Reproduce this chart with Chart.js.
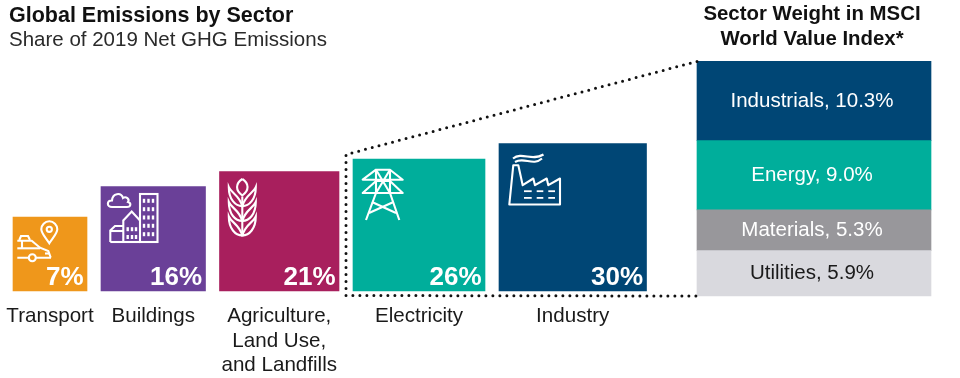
<!DOCTYPE html>
<html>
<head>
<meta charset="utf-8">
<script src="https://cdn.jsdelivr.net/npm/chart.js@4"></script>
<style>
  body { margin: 0; background: #fff; font-family: 'Liberation Sans', sans-serif; color: #111; }
  #wrap { position: relative; width: 960px; height: 378px; overflow: hidden; }
  canvas { position: absolute; left: 0; top: 0; }
  .txt { position: absolute; white-space: nowrap; }
  #title { left: 9px; top: 1px; font-size: 21.5px; font-weight: bold; line-height: 28px; }
  #subtitle { left: 9px; top: 25px; font-size: 20.5px; line-height: 28px; color: #2a2a2a; }
  #rightTitle { left: 662px; width: 300px; top: 1px; text-align: center; font-size: 20.4px; font-weight: bold; line-height: 25px; }
</style>
</head>
<body>
<div id="wrap">
  <canvas id="chart" width="960" height="378"></canvas>
  <div class="txt" id="title">Global Emissions by Sector</div>
  <div class="txt" id="subtitle">Share of 2019 Net GHG Emissions</div>
  <div class="txt" id="rightTitle">Sector Weight in MSCI<br>World Value Index*</div>
</div>
<script>
const sectors = ['Transport', 'Buildings', ['Agriculture,', 'Land Use,', 'and Landfills'], 'Electricity', 'Industry'];
const sectorShares = [7, 16, 21, 26, 30];
const sectorSides = [74, 104.5, 119.5, 132, 147.5];
const sectorColors = ['#EF971B', '#6A4098', '#A81F5D', '#00AE9B', '#004675'];

// Right side: stacked index weights
const weightNames = ['Industrials', 'Energy', 'Materials', 'Utilities'];
const weightValues = [10.3, 9.0, 5.3, 5.9];
const weightColors = ['#004675', '#00AE9B', '#98979B', '#D9D9DE'];
const weightTextColors = ['#fff', '#fff', '#fff', '#1a1a1a'];

const FIRST_LEFT = 13;
const BAR_GAP = 14;
const STACK_CENTER = 814;
const STACK_WIDTH = 234;

// bars sit side by side with a fixed gap, so the centres follow from the sides
let cursor = FIRST_LEFT;
const sectorCenters = sectorSides.map(side => {
    const center = cursor + side / 2;
    cursor += side + BAR_GAP;
    return center;
});

const datasets = [];
sectorSides.forEach((side, i) => {
    datasets.push({
        data: [{ x: sectorCenters[i], y: side }],
        backgroundColor: sectorColors[i],
        barThickness: side,
        yAxisID: 'y',
        stack: 'all'
    });
});
// bottom of the stack goes first
for (let i = weightValues.length - 1; i >= 0; i--) {
    datasets.push({
        data: [{ x: STACK_CENTER, y: weightValues[i] }],
        backgroundColor: weightColors[i],
        barThickness: STACK_WIDTH,
        yAxisID: 'y2',
        stack: 'all',
        weightIndex: i
    });
}

// Icons are sized in px from the top left corner of their bar
function line(ctx, pts, close) {
    ctx.beginPath();
    pts.forEach((p, i) => i ? ctx.lineTo(p[0], p[1]) : ctx.moveTo(p[0], p[1]));
    if (close) ctx.closePath();
    ctx.stroke();
}

function carIcon(ctx, bg) {
    ctx.beginPath();
    ctx.moveTo(36.3, 26.3);
    ctx.bezierCurveTo(33, 21, 28.3, 16.5, 28.3, 12.3);
    ctx.arc(36.3, 12.3, 8, Math.PI, 0);
    ctx.bezierCurveTo(44.3, 16.5, 39.6, 21, 36.3, 26.3);
    ctx.closePath();
    ctx.stroke();
    ctx.beginPath();
    ctx.arc(36.3, 12.3, 2.6, 0, Math.PI * 2);
    ctx.stroke();
    line(ctx, [[6.3, 23], [8, 19], [15, 19], [17, 23]]);
    line(ctx, [[4.3, 23.7], [18.7, 23.7], [27, 30.7], [35.3, 34], [37.7, 40.5]]);
    line(ctx, [[4.3, 31.3], [27, 31.3]]);
    line(ctx, [[9, 23.7], [9, 31.3]]);
    line(ctx, [[4.3, 40.7], [38, 40.7]]);
    line(ctx, [[32, 36.5], [36.5, 36.5]]);
    ctx.beginPath();
    ctx.arc(19.3, 40.7, 3.5, 0, Math.PI * 2);
    ctx.fillStyle = bg;
    ctx.fill();
    ctx.stroke();
}

function cityIcon(ctx) {
    ctx.beginPath();
    ctx.moveTo(11, 20.5);
    ctx.bezierCurveTo(5.5, 20.5, 5.5, 14, 11, 14);
    ctx.bezierCurveTo(11.5, 6.5, 20, 5.5, 22, 11.5);
    ctx.bezierCurveTo(25, 9.5, 29, 12.5, 27, 15.5);
    ctx.bezierCurveTo(30.5, 16.5, 30, 20.5, 26, 20.5);
    ctx.closePath();
    ctx.stroke();
    ctx.strokeRect(39, 7.5, 17.5, 48);
    line(ctx, [[22.3, 55.5], [22.3, 34], [30.7, 25], [39, 34]]);
    line(ctx, [[9.3, 55.5], [9.3, 44], [14, 39.5], [22.3, 39.5]]);
    line(ctx, [[9.3, 44.5], [22.3, 44.5]]);
    line(ctx, [[9.3, 55.5], [39, 55.5]]);
    ctx.fillStyle = '#fff';
    for (const x of [43, 47.5, 52]) {
        for (const y of [12.3, 20.7, 29, 37.3, 45.7]) ctx.fillRect(x - 1.2, y, 2.4, 4);
    }
    for (const x of [26.7, 31, 35]) {
        for (const y of [40.7, 48.5]) ctx.fillRect(x - 1.2, y, 2.4, 4);
    }
}

function wheatIcon(ctx) {
    const cx = 22.8;
    line(ctx, [[cx, 25], [cx, 64]]);
    ctx.beginPath();
    ctx.moveTo(cx, 7.5);
    ctx.bezierCurveTo(cx + 7, 12, cx + 7, 19, cx, 24);
    ctx.bezierCurveTo(cx - 7, 19, cx - 7, 12, cx, 7.5);
    ctx.stroke();
    for (const top of [15.7, 30.5, 45]) {
        for (const dir of [-1, 1]) {
            ctx.beginPath();
            ctx.moveTo(cx, top + 19);
            ctx.bezierCurveTo(cx + dir * 7, top + 19, cx + dir * 13.5, top + 12, cx + dir * 13.5, top);
            ctx.bezierCurveTo(cx + dir * 11, top + 6, cx + dir * 3, top + 8, cx, top + 19);
            ctx.closePath();
            ctx.stroke();
        }
    }
}

function towerIcon(ctx) {
    ctx.lineJoin = 'round';
    line(ctx, [[23, 10.7], [9.7, 20.7], [49.7, 20.7], [37, 10.7]], true);
    line(ctx, [[23, 22], [9.7, 34], [49.7, 34], [37, 22]], true);
    line(ctx, [[23, 10.7], [37, 34]]);
    line(ctx, [[37, 10.7], [23, 34]]);
    line(ctx, [[23, 10.7], [23, 34], [13, 61]]);
    line(ctx, [[37, 10.7], [37, 34], [46.3, 61]]);
    line(ctx, [[19, 43], [43, 54]]);
    line(ctx, [[40.5, 43], [16, 54]]);
}

function factoryIcon(ctx) {
    ctx.lineJoin = 'round';
    line(ctx, [[10.3, 61], [14.3, 21.7], [19.3, 21.7], [23.7, 41.7], [34.3, 35], [36, 41.7], [47.7, 35], [49.3, 41.7], [61, 35], [61, 61]], true);
    ctx.beginPath();
    ctx.moveTo(14, 15);
    ctx.bezierCurveTo(23, 8, 33, 18, 44.5, 11);
    ctx.moveTo(16, 18.5);
    ctx.bezierCurveTo(25, 13, 34, 23, 43, 15);
    ctx.stroke();
    ctx.fillStyle = '#fff';
    for (const y of [47.7, 54.4]) {
        ctx.fillRect(25, y - 0.9, 7.7, 1.8);
        ctx.fillRect(37.7, y - 0.9, 6.6, 1.8);
        ctx.fillRect(49.3, y - 0.9, 6.7, 1.8);
    }
}

const icons = [carIcon, cityIcon, wheatIcon, towerIcon, factoryIcon];

const annotations = {
    id: 'annotations',
    afterDatasetsDraw(chart) {
        const ctx = chart.ctx;
        const barAt = i => chart.getDatasetMeta(i).data[0];

        // icons and % labels on the sector squares
        sectorShares.forEach((share, i) => {
            const bar = barAt(i);
            const left = bar.x - bar.width / 2;
            ctx.save();
            ctx.translate(left, bar.y);
            ctx.strokeStyle = '#fff';
            ctx.lineWidth = 2.1;
            icons[i](ctx, sectorColors[i]);
            ctx.restore();

            ctx.save();
            ctx.fillStyle = '#fff';
            ctx.font = 'bold 26px "Liberation Sans"';
            ctx.textAlign = 'right';
            ctx.textBaseline = 'alphabetic';
            ctx.fillText(share + '%', bar.x + bar.width / 2 - 3.5, bar.base - 6);
            ctx.restore();
        });

        // labels in the stack
        chart.data.datasets.forEach((ds, d) => {
            if (ds.weightIndex === undefined) return;
            const bar = barAt(d);
            const i = ds.weightIndex;
            ctx.save();
            ctx.fillStyle = weightTextColors[i];
            ctx.font = '20.5px "Liberation Sans"';
            ctx.textAlign = 'center';
            ctx.textBaseline = 'middle';
            ctx.fillText(weightNames[i] + ', ' + weightValues[i].toFixed(1) + '%', bar.x - 2, (bar.y + bar.base) / 2);
            ctx.restore();
        });

        // dotted zoom outline from the Electricity + Industry bars to the stack
        const elec = barAt(3);
        const topBar = barAt(datasets.length - 1);
        const bottomBar = barAt(sectorShares.length);
        const outerX = elec.x - elec.width / 2 - 7;
        const stackLeft = topBar.x - topBar.width / 2;
        ctx.save();
        ctx.strokeStyle = '#111';
        ctx.lineWidth = 3;
        ctx.lineCap = 'round';
        ctx.setLineDash([0, 7]);
        ctx.beginPath();
        ctx.moveTo(stackLeft, topBar.y);
        ctx.lineTo(outerX, elec.y - 4.5);
        ctx.lineTo(outerX, elec.base + 4.5);
        ctx.lineTo(stackLeft, bottomBar.base);
        ctx.stroke();
        ctx.restore();
    }
};

new Chart(document.getElementById('chart'), {
    type: 'bar',
    data: { datasets },
    plugins: [annotations],
    options: {
        responsive: false,
        animation: false,
        layout: { padding: 0, autoPadding: false },
        plugins: { legend: { display: false }, tooltip: { enabled: false } },
        scales: {
            x: {
                type: 'linear',
                offset: false,
                position: { y: 0 },
                min: 0,
                max: 960,
                // tick length instead of ticks.padding, that padding would shrink the scale
                grid: { display: false, tickLength: 13 },
                border: { display: false },
                afterBuildTicks: axis => { axis.ticks = sectorCenters.map(value => ({ value })); },
                ticks: {
                    autoSkip: false,
                    maxRotation: 0,
                    padding: 0,
                    color: '#1a1a1a',
                    font: { family: 'Liberation Sans', size: 20.6, lineHeight: 1.2 },
                    callback: (value, i) => sectors[i]
                }
            },
            // one unit is one pixel of square side, with 0 on the baseline of the squares
            y: { display: false, min: -87, max: 291, stacked: false },
            // weight points, 0 on the baseline of the stack
            y2: { display: false, min: -10.66, max: 38.49, stacked: true }
        }
    }
});
</script>
</body>
</html>
